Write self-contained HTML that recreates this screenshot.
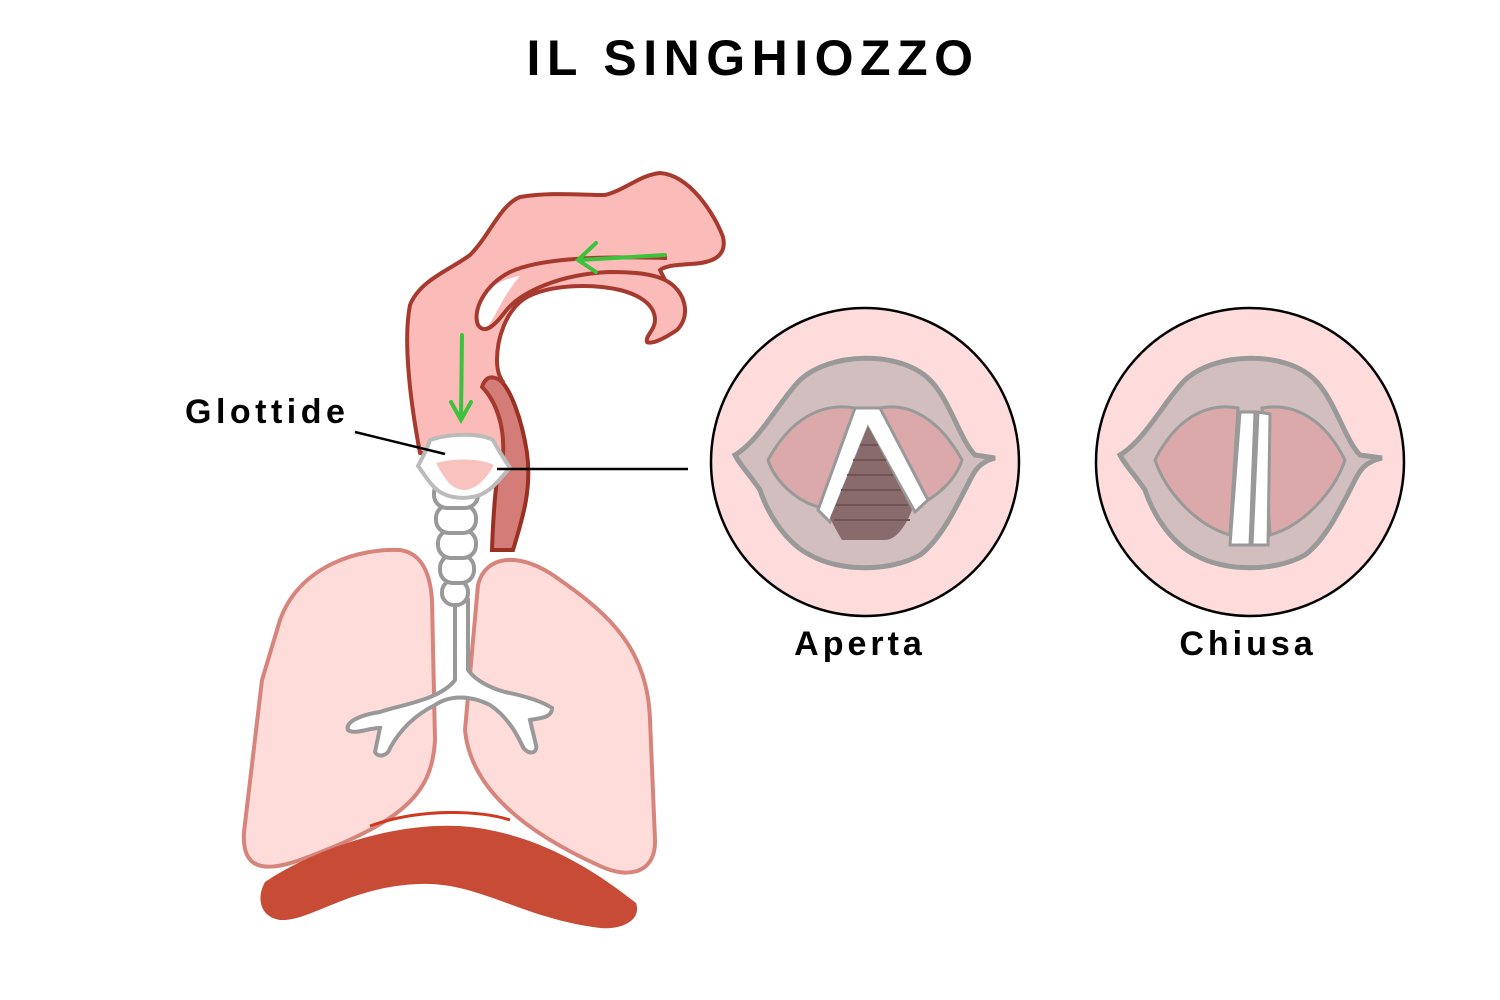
<!DOCTYPE html>
<html><head><meta charset="utf-8"><style>
html,body{margin:0;padding:0;background:#fff}
svg{display:block}
text{font-family:"Liberation Sans",sans-serif;font-weight:bold}
</style></head><body>
<svg width="1500" height="1000" viewBox="0 0 1500 1000" xmlns="http://www.w3.org/2000/svg">
<rect width="1500" height="1000" fill="#fff"/>
<text x="753" y="75" font-size="50" text-anchor="middle" letter-spacing="6.5" fill="#000">IL SINGHIOZZO</text>

<!-- lungs -->
<path d="M280,620 C300,565 360,548 400,550 C420,553 430,570 432,600 L435,740 C432,790 410,820 300,860 C255,876 242,862 244,832 L262,680 Z" fill="#fedcda" stroke="#d6847c" stroke-width="4"/>
<path d="M478,585 C485,555 520,550 560,580 C610,615 648,650 650,720 L655,840 C656,872 630,880 600,866 C520,830 470,785 465,730 Z" fill="#fedcda" stroke="#d6847c" stroke-width="4"/>

<!-- diaphragm -->
<path d="M370,826 C420,808 480,810 510,820" fill="none" stroke="#d0381f" stroke-width="3"/>
<path d="M265,882 C300,858 380,822 460,826 C540,832 600,875 636,903 C642,920 622,930 600,928 C520,918 480,882 420,884 C350,886 310,922 280,920 C260,917 256,898 265,882 Z" fill="#c74b35"/>

<!-- esophagus -->
<path d="M482,387 C478,378 487,372 497,378 C510,385 522,420 527,453 C532,490 522,520 513,550 L492,550 C493,520 495,480 502,450 C505,425 495,400 482,387 Z" fill="#d47d78" stroke="#9a3024" stroke-width="4"/>

<!-- pharynx / nasal -->
<path d="M420,453 C410,400 403,340 410,305 C420,280 450,270 470,255 C490,235 500,205 520,197 C550,192 580,195 605,195 C625,190 640,175 660,173 C690,175 715,215 723,237 C727,255 715,263 690,264 C675,265 665,266 660,270 L665,280 C685,290 692,315 677,330 C665,338 652,345 647,342 C645,336 655,330 655,320 C655,305 640,295 620,290 C590,283 550,285 527,297 C505,310 497,340 497,360 C497,372 500,378 503,382 C497,378 487,372 482,387 C495,400 505,425 503,455 Z" fill="#fbbcb9" stroke="#a63a2e" stroke-width="4" stroke-linejoin="round"/>
<path d="M480,326 C471,315 476,298 490,288 C500,281 510,278 520,276 C508,290 500,305 495,315 C490,324 486,330 480,326 Z" fill="#fff"/>
<path d="M667,258 C600,256 540,258 510,272 C485,285 472,310 478,325 C485,335 495,325 505,312 C520,292 560,274 610,272 C640,272 655,275 665,280" fill="none" stroke="#a63a2e" stroke-width="4"/>

<!-- trachea rings -->
<g fill="#fff" stroke="#999" stroke-width="4">
<path d="M455,600 L455,680 C440,700 400,705 380,712 C360,715 345,722 348,730 C355,735 368,728 380,728 L375,752 C378,758 388,756 390,748 C400,730 415,715 435,705 C450,695 470,695 490,705 C505,715 515,730 522,745 C526,755 538,755 536,745 L530,720 C540,718 552,718 552,708 C540,700 520,695 505,692 C490,688 475,680 468,670 L468,600 Z"/>
<rect x="442" y="580" width="26" height="25" rx="12"/>
<rect x="440" y="555" width="34" height="28" rx="13"/>
<rect x="438" y="530" width="38" height="28" rx="13"/>
<rect x="436" y="505" width="40" height="28" rx="13"/>
<rect x="434" y="480" width="44" height="28" rx="13"/>
</g>
<!-- larynx -->
<path d="M430,440 C450,433 480,433 493,440 C498,450 505,460 510,468 C500,478 495,488 480,495 C465,500 450,498 440,492 C430,485 425,475 418,466 C422,458 427,450 430,440 Z" fill="#fff" stroke="#bbb" stroke-width="4"/>
<path d="M436,463 C455,458 480,458 494,465 C488,475 480,488 465,490 C452,490 445,480 436,463 Z" fill="#f8c2bf"/>

<!-- arrows -->
<g stroke="#3dc23d" stroke-width="4" fill="none" stroke-linecap="round">
<path d="M665,255 L580,260 M596,243 L578,260 L596,272"/>
<path d="M462,335 L461,418 M451,402 L461,420 L471,402"/>
</g>

<!-- labels & leader lines -->
<text x="185" y="423" font-size="34" letter-spacing="4.5" fill="#000">Glottide</text>
<line x1="355" y1="432" x2="445" y2="454" stroke="#000" stroke-width="2.5"/>
<line x1="497" y1="469" x2="688" y2="469" stroke="#000" stroke-width="2.5"/>

<!-- Aperta -->
<circle cx="865" cy="462" r="154" fill="#fedcdc" stroke="#000" stroke-width="2.5"/>
<path d="M735,455 C760,440 780,400 800,380 C830,352 900,350 930,380 C950,400 960,440 975,455 L995,458 C980,462 975,470 970,480 C955,510 940,540 920,555 C890,572 840,572 810,555 C790,545 770,520 760,490 C750,475 740,465 735,455 Z" fill="#d2bebe" stroke="#999" stroke-width="5"/>
<path d="M768,460 C790,420 820,402 855,408 L825,508 C800,505 775,482 768,460 Z" fill="#dba9aa" stroke="#999" stroke-width="3"/>
<path d="M962,460 C940,420 910,402 880,408 L905,508 C930,505 955,482 962,460 Z" fill="#dba9aa" stroke="#999" stroke-width="3"/>
<path d="M855,408 L880,408 L928,500 L915,512 L868,428 L830,522 L818,510 Z" fill="#fff" stroke="#999" stroke-width="3"/>
<path d="M868,426 L912,510 C905,528 895,540 885,540 L842,540 C836,530 832,522 830,518 Z" fill="#8a6b6b"/>
<g stroke="#6e5454" stroke-width="2">
<line x1="860" y1="445" x2="878" y2="445"/><line x1="853" y1="460" x2="886" y2="460"/><line x1="847" y1="475" x2="893" y2="475"/><line x1="841" y1="490" x2="901" y2="490"/><line x1="836" y1="505" x2="908" y2="505"/><line x1="834" y1="520" x2="910" y2="520"/>
</g>
<text x="860" y="655" font-size="34" letter-spacing="4" text-anchor="middle" fill="#000">Aperta</text>

<!-- Chiusa -->
<circle cx="1250" cy="462" r="154" fill="#fedcdc" stroke="#000" stroke-width="2.5"/>
<path d="M1120,455 C1145,440 1165,400 1185,380 C1215,352 1285,350 1315,380 C1335,400 1345,440 1360,455 L1382,458 C1365,462 1360,470 1355,480 C1340,510 1325,540 1305,555 C1275,572 1225,572 1195,555 C1175,545 1155,520 1145,490 C1135,475 1125,465 1120,455 Z" fill="#d2bebe" stroke="#999" stroke-width="5"/>
<path d="M1155,460 C1175,420 1205,402 1238,408 L1230,535 C1195,525 1165,490 1155,460 Z" fill="#dba9aa" stroke="#999" stroke-width="3"/>
<path d="M1345,460 C1325,420 1295,402 1262,408 L1270,535 C1305,525 1335,490 1345,460 Z" fill="#dba9aa" stroke="#999" stroke-width="3"/>
<path d="M1240,412 L1255,412 L1250,545 L1230,545 Z" fill="#fff" stroke="#999" stroke-width="3"/>
<path d="M1258,412 L1270,414 L1268,545 L1252,545 Z" fill="#fff" stroke="#999" stroke-width="3"/>
<text x="1248" y="655" font-size="34" letter-spacing="4" text-anchor="middle" fill="#000">Chiusa</text>
</svg>
</body></html>
